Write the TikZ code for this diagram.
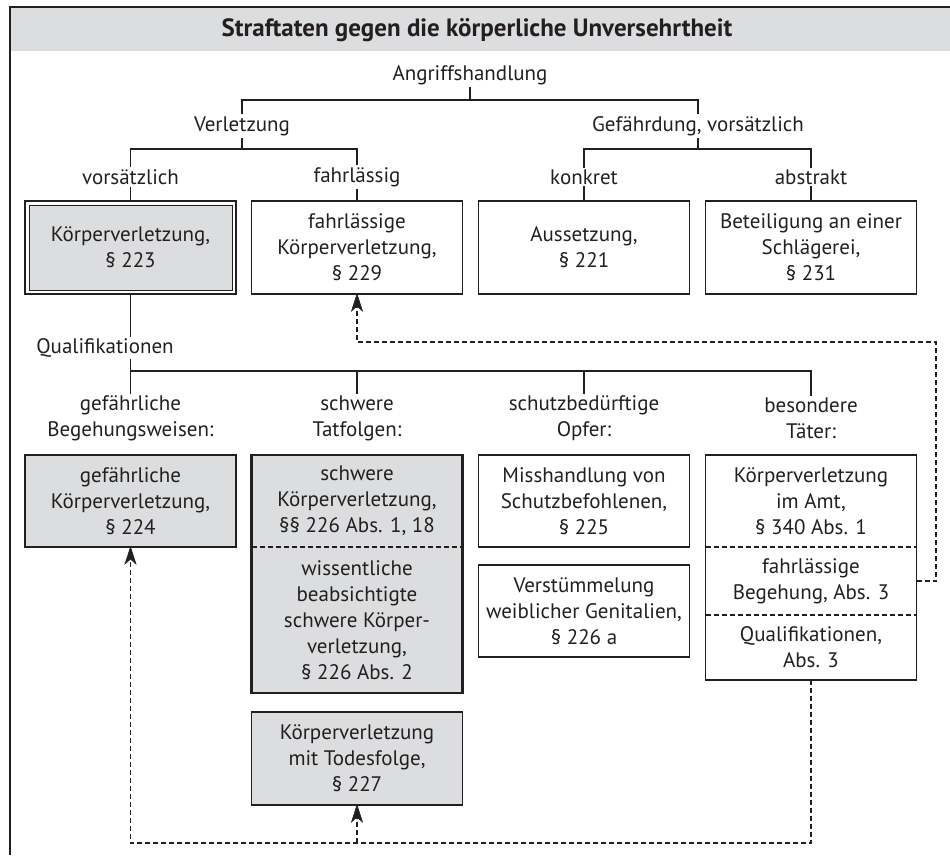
\documentclass[tikz,border=0pt]{standalone}
\usepackage{fontspec}
\setmainfont{PT Sans}
\usetikzlibrary{calc,arrows.meta}
\definecolor{boxgray}{HTML}{DCDDDE}
\definecolor{ink}{HTML}{231F20}
\begin{document}
\begin{tikzpicture}[x=1pt,y=-1pt,
  every node/.style={font=\fontsize{21}{26}\selectfont, text=ink, outer sep=0pt},
  lbl/.style={inner sep=2pt, align=center},
  box/.style={draw=ink, line width=1.5pt, minimum width=211pt, align=center, inner sep=0pt},
  gbox/.style={box, fill=boxgray},
  plain/.style={box, draw=none},
  conn/.style={draw=ink, line width=1.5pt},
  dconn/.style={draw=ink, line width=1.5pt, dash pattern=on 5pt off 3pt},
  tipbox/.style={fill=ink, draw=ink, line width=0.6pt, line join=miter}
]
\useasboundingbox (0,0) rectangle (950,855);
% frame and header
\fill[boxgray] (11,8) rectangle (950,51);
\draw[draw=ink, line width=2.4pt] (10,855) -- (10,7) -- (950,7);
\node[font=\bfseries\fontsize{25}{26}\selectfont] (title) at (477,30) {Straftaten gegen die körperliche Unversehrtheit};

% coordinates for brackets
\coordinate (h0) at (0,100);
\coordinate (h1) at (0,149);
\coordinate (h2) at (0,371);
\coordinate (dy1) at (0,342);
\coordinate (dy2) at (0,843);
\coordinate (dxr) at (936,0);

% top labels
\node[lbl] (angr) at (470,75) {Angriffshandlung};
\node[lbl] (verl) at (242,126) {Verletzung};
\node[lbl] (gef) at (698,126) {Gefährdung, vorsätzlich};
\node[lbl] (vors) at (130.5,177) {vorsätzlich};
\node[lbl] (fahr) at (357,177) {fahrlässig};
\node[lbl] (konk) at (584,177) {konkret};
\node[lbl] (abst) at (811,177) {abstrakt};

% row 1 boxes
\node[box, line width=2.6pt, minimum height=93pt] (kv) at (130.5,247.5) {};
\node[gbox, line width=0.8pt, minimum width=203pt, minimum height=85pt] (kvin) at (kv.center) {Körperverletzung,\\§ 223};
\node[box, minimum height=93pt] (fk) at (357,247.5) {fahrlässige\\Körperverletzung,\\§ 229};
\node[box, minimum height=93pt] (aus) at (584,247.5) {Aussetzung,\\§ 221};
\node[box, minimum height=93pt] (sch) at (811,247.5) {Beteiligung an einer\\Schlägerei,\\§ 231};

% top connectors
\draw[conn] (angr.south) -- (angr.south |- h0);
\draw[conn] (verl.north) -- (verl.north |- h0) -- (gef.north |- h0) -- (gef.north);
\draw[conn] (verl.south) -- (verl.south |- h1);
\draw[conn] (gef.south) -- (gef.south |- h1);
\draw[conn] (vors.north) -- (vors.north |- h1) -- (fahr.north |- h1) -- (fahr.north);
\draw[conn] (konk.north) -- (konk.north |- h1) -- (abst.north |- h1) -- (abst.north);
\draw[conn] (vors.south) -- (kv.north);
\draw[conn] (fahr.south) -- (fk.north);
\draw[conn] (konk.south) -- (aus.north);
\draw[conn] (abst.south) -- (sch.north);

% Qualifikationen
\node[lbl] (qual) at (105,348) {Qualifikationen};
\node[lbl] (l1) at (130.5,418.5) {gefährliche\\Begehungsweisen:};
\node[lbl] (l2) at (357,418.5) {schwere\\Tatfolgen:};
\node[lbl] (l3) at (584,418.5) {schutzbedürftige\\Opfer:};
\node[lbl] (l4) at (811,418.5) {besondere\\Täter:};
\draw[conn] (kv.south) -- (kv.south |- qual.north);
\draw[conn] (kv.south |- qual.south) -- (kv.south |- h2);
\draw[conn] (l1.north) -- (l1.north |- h2) -- (l4.north |- h2) -- (l4.north);
\draw[conn] (l2.north) -- (l2.north |- h2);
\draw[conn] (l3.north) -- (l3.north |- h2);

% row 2 boxes
\node[gbox, minimum height=92pt] (gk) at (130.5,501) {gefährliche\\Körperverletzung,\\§ 224};
\node[gbox, draw=none, minimum height=92pt] (swA) at (357,501) {schwere\\Körperverletzung,\\§§ 226 Abs. 1, 18};
\node[gbox, draw=none, minimum height=146pt] (swB) at (357,620) {wissentliche\\beabsichtigte\\schwere Körper-\\verletzung,\\§ 226 Abs. 2};
\draw[ink, line width=2.6pt] (swA.north west) rectangle (swB.south east);
\draw[dconn] (swA.south west) -- (swA.south east);
\node[gbox, minimum height=93pt] (td) at (357,758.5) {Körperverletzung\\mit Todesfolge,\\§ 227};
\node[box, minimum height=92pt] (mh) at (584,501) {Misshandlung von\\Schutzbefohlenen,\\§ 225};
\node[box, minimum height=92pt] (vg) at (584,611) {Verstümmelung\\weiblicher Genitalien,\\§ 226 a};
\node[plain, minimum height=92pt] (bA) at (811,501) {Körperverletzung\\im Amt,\\§ 340 Abs. 1};
\node[plain, minimum height=68pt] (bB) at (811,581) {fahrlässige\\Begehung, Abs. 3};
\node[plain, minimum height=65pt] (bC) at (811,647.5) {Qualifikationen,\\Abs. 3};
\draw[ink, line width=1.5pt] (bA.north west) rectangle (bC.south east);
\draw[dconn] (bA.south west) -- (bA.south east);
\draw[dconn] (bB.south west) -- (bB.south east);

% dashed references
\draw[dconn] (bB.east) -- (bB.east -| dxr) -- (dxr |- dy1) -- (fk.south |- dy1) -- ($(fk.south)+(0,6)$);
\draw[dconn] (bC.south) -- (bC.south |- dy2) -- (gk.south |- dy2) -- ($(gk.south)+(0,6)$);
\draw[dconn] (td.south |- dy2) -- ($(td.south)+(0,6)$);
% arrow tips drawn as filled stealth shapes (tip at the box edge)
\foreach \b in {fk,gk,td}{
  \filldraw[tipbox] (\b.south) -- ++(-5.5,17) -- ++(5.5,-5) -- ++(5.5,5) -- cycle;
}
\end{tikzpicture}
\end{document}
